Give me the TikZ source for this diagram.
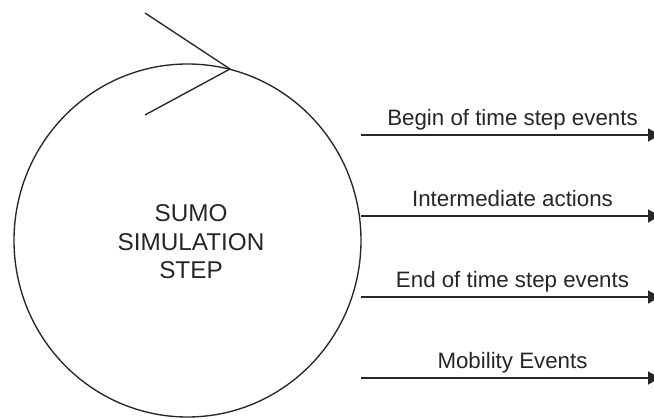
\documentclass[tikz,border=0pt]{standalone}
\usepackage{fontspec}
\setmainfont{Liberation Sans}
\usetikzlibrary{shapes.geometric,arrows.meta}
\begin{document}
\begin{tikzpicture}[x=1pt,y=-1pt,
  line width=1.35pt, draw={black!85},
  lbl/.style={anchor=base, inner sep=0pt, text=black!85, font=\fontsize{22.3}{26}\selectfont},
  flow/.style={-{Triangle[length=12pt,width=13pt]}},
  chev/.style={line width=1.35pt}]
\clip (0,0) rectangle (654,419);
\useasboundingbox (0,0) rectangle (654,419);
\node[draw, ellipse, minimum width=347pt, minimum height=353pt, inner sep=0pt] (sim) at (187.5,240.5) {};
\node[align=center, text=black!85, font=\fontsize{24.3}{28.5}\selectfont] (simtxt) at (191,242) {SUMO\\SIMULATION\\STEP};
\coordinate (v) at (230,69);
\coordinate (ca) at (145,13);
\coordinate (cb) at (145,115);
\draw[chev] (ca) -- (v) -- (cb);
\foreach \n/\y/\t in {1/135/Begin of time step events, 2/216/Intermediate actions, 3/297/End of time step events, 4/378/Mobility Events}{
  \coordinate (s\n) at (361,\y);
  \coordinate (e\n) at (660,\y);
  \draw[flow] (s\n) -- (e\n);
  \node[lbl] (l\n) at (512.5,\y-9.5) {\t};
}
\end{tikzpicture}
\end{document}
